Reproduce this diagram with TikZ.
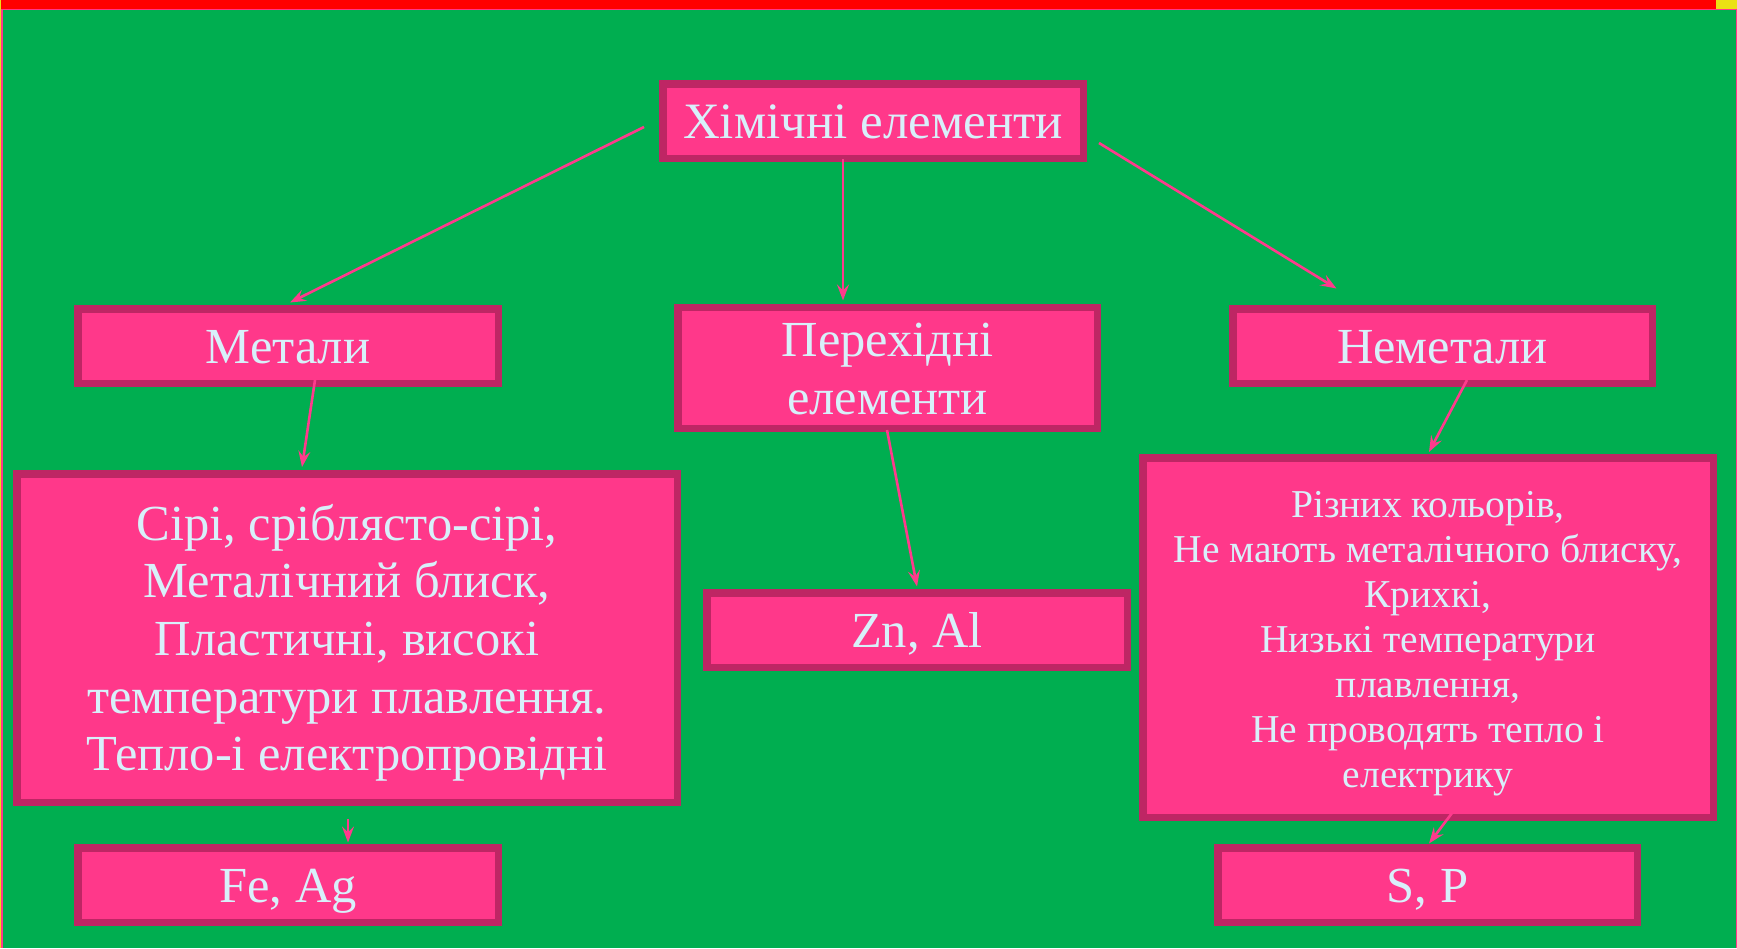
\documentclass[tikz,border=0pt]{standalone}
\usepackage{fontspec}
\setmainfont{Liberation Serif}
\usetikzlibrary{arrows.meta,calc}
\definecolor{bg}{RGB}{0,174,80}
\definecolor{boxfill}{RGB}{255,56,138}
\definecolor{boxline}{RGB}{190,38,100}
\definecolor{txt}{RGB}{216,240,250}
\definecolor{arrcol}{RGB}{255,58,140}
\definecolor{barred}{RGB}{255,0,0}
\definecolor{edgey}{RGB}{235,225,20}
% struts that fix the vertical placement of the text inside the boxes
\newcommand\tp{\rule{0pt}{49pt}}
\newcommand\bt{\rule[-14pt]{0pt}{0pt}}
\newcommand\tps{\rule{0pt}{40pt}}
\newcommand\bts{\rule[-10pt]{0pt}{0pt}}
\tikzset{
  box/.style={draw=boxline, fill=boxfill, line width=7.5pt, inner sep=0pt,
    text=txt, align=center, font=\fontsize{50.5}{57.6}\selectfont},
  smalltext/.style={font=\fontsize{39.5}{45}\selectfont},
  arr/.style={draw=arrcol, line width=2.6pt,
    -{Stealth[length=16pt,width=12pt,inset=6pt]}}
}
\begin{document}
\begin{tikzpicture}[x=1pt,y=-1pt]
\useasboundingbox (0,0) rectangle (1737,948);
\fill[bg] (0,0) rectangle (1737,948);
\fill[barred] (0,0) rectangle (1737,8.5);
\fill[edgey] (1716,0) rectangle (1737,8.5);
\fill[boxfill] (0,8.5) rectangle (1737,10);
\fill[edgey] (0,0) rectangle (1,948);
\fill[boxfill] (1,8.5) rectangle (3,948);
\fill[boxfill] (1735.5,8.5) rectangle (1737,948);

\node[box, minimum width=420.5pt, minimum height=74.5pt, font=\fontsize{51}{57.6}\selectfont] (top) at (873,121) {\rule{0pt}{48.6pt}Хімічні елементи\bt};
\node[box, minimum width=420.5pt, minimum height=74.5pt] (met) at (288,346) {\tp Метали\bt};
\node[box, minimum width=419.5pt, minimum height=118.5pt] (per) at (887.5,368) {\tp Перехідні\\елементи\bt};
\node[box, minimum width=419.5pt, minimum height=74.5pt] (nem) at (1442.5,346) {\tp Неметали\bt};
\node[box, minimum width=660.5pt, minimum height=328.5pt] (mprop) at (347,638)
  {\tp Сірі, сріблясто-сірі,\\Металічний блиск,\\Пластичні, високі\\температури плавлення.\\Тепло-і електропровідні\bt};
\node[box, minimum width=420.5pt, minimum height=74.5pt] (zn) at (917,630) {\tp Zn, Al\bt};
\node[box, smalltext, minimum width=570.5pt, minimum height=359.5pt] (nprop) at (1428,637.5)
  {\tps Різних кольорів,\\Не мають металічного блиску,\\Крихкі,\\Низькі температури\\плавлення,\\Не проводять тепло і\\електрику\bts};
\node[box, minimum width=420.5pt, minimum height=74.5pt] (fe) at (288,885) {\tp Fe, Ag\bt};
\node[box, minimum width=419.5pt, minimum height=74.5pt] (sp) at (1427.5,885) {\tp S, P\bt};

\draw[arr] ($(top.west)+(-15,6)$) -- ($(met.north)+(2,-2.5)$);
\draw[arr] ($(top.south)+(-30,-3)$) -- ($(per.north)+(-44.5,-3.5)$);
\draw[arr] ($(top.east)+(12,22)$) -- ($(nem.north)+(-106,-16.5)$);
\draw[arr] ($(met.south)+(27,-7)$) -- ($(mprop.north)+(-45,-3)$);
\draw[arr] ($(per.south)+(-0.5,-2)$) -- ($(zn.north)+(0,-2.5)$);
\draw[arr] ($(nem.south)+(24.5,-7)$) -- ($(nprop.north)+(1,-2)$);
\draw[arr] ($(mprop.south)+(1,13)$) -- ($(fe.north)+(60,-1.5)$);
\draw[arr] ($(nprop.south)+(24,-8)$) -- ($(sp.north)+(1.5,-0.5)$);
\end{tikzpicture}
\end{document}
